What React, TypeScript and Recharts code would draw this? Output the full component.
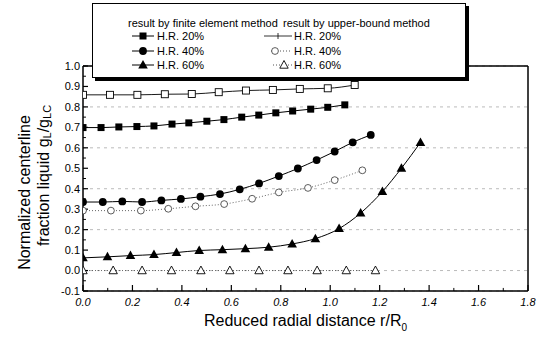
import { LineChart, Line, XAxis, YAxis, CartesianGrid, ReferenceLine, Legend } from 'recharts'

// finite element method (filled markers)
const femR20 = [0, 0.073, 0.145, 0.218, 0.287, 0.36, 0.428, 0.501, 0.57, 0.642, 0.711, 0.78, 0.848, 0.921, 0.99, 1.059]
const femG20 = [0.699, 0.699, 0.702, 0.704, 0.707, 0.716, 0.722, 0.73, 0.738, 0.75, 0.76, 0.771, 0.78, 0.789, 0.798, 0.81]
const femR40 = [0, 0.08, 0.159, 0.239, 0.317, 0.396, 0.475, 0.554, 0.634, 0.712, 0.792, 0.869, 0.945, 1.018, 1.091, 1.164]
const femG40 = [0.335, 0.335, 0.338, 0.335, 0.343, 0.35, 0.361, 0.374, 0.397, 0.426, 0.462, 0.499, 0.54, 0.582, 0.627, 0.663]
const femR60 = [0, 0.099, 0.192, 0.287, 0.378, 0.47, 0.564, 0.657, 0.751, 0.846, 0.94, 1.036, 1.123, 1.211, 1.288, 1.365]
const femG60 = [0.062, 0.067, 0.073, 0.078, 0.088, 0.098, 0.102, 0.107, 0.114, 0.13, 0.156, 0.205, 0.281, 0.386, 0.5, 0.626]

// upper-bound method (open markers)
const ubR20 = [0, 0.109, 0.22, 0.331, 0.44, 0.549, 0.659, 0.768, 0.877, 0.99, 1.099]
const ubG20 = [0.859, 0.859, 0.859, 0.862, 0.863, 0.872, 0.88, 0.883, 0.888, 0.891, 0.907]
const ubR40 = [0, 0.113, 0.234, 0.345, 0.455, 0.571, 0.684, 0.792, 0.91, 1.018, 1.13]
const ubG40 = [0.293, 0.293, 0.293, 0.302, 0.314, 0.325, 0.351, 0.382, 0.404, 0.442, 0.49]
const ubR60 = [0, 0.122, 0.239, 0.358, 0.477, 0.594, 0.712, 0.829, 0.947, 1.065, 1.183]
const ubG60 = [0, 0, 0, 0, 0, 0, 0, 0, 0, 0, 0]

const xTicks = [0, 0.2, 0.4, 0.6, 0.8, 1.0, 1.2, 1.4, 1.6, 1.8]
const xMinor = [0.1, 0.3, 0.5, 0.7, 0.9, 1.1, 1.3, 1.5, 1.7]
const yTicks = [-0.1, 0, 0.1, 0.2, 0.3, 0.4, 0.5, 0.6, 0.7, 0.8, 0.9, 1.0]
const yMinor = [-0.05, 0.05, 0.15, 0.25, 0.35, 0.45, 0.55, 0.65, 0.75, 0.85, 0.95]

const FONT = '"Liberation Sans", Arial, Helvetica, sans-serif'

const toPoints = (r: number[], g: number[]) => r.map((x, i) => ({ r: x, g: g[i] }))

const FilledSquare = ({ cx, cy }: any) => <rect x={cx - 3.5} y={cy - 3.5} width={7} height={7} fill="#000" />
const OpenSquare = ({ cx, cy }: any) => (
  <rect x={cx - 3.5} y={cy - 3.5} width={7} height={7} fill="#fff" stroke="#000" strokeWidth={0.9} />
)
const FilledCircle = ({ cx, cy }: any) => <circle cx={cx} cy={cy} r={3.9} fill="#000" />
const OpenCircle = ({ cx, cy }: any) => <circle cx={cx} cy={cy} r={3.4} fill="#fff" stroke="#333" strokeWidth={0.8} />
const FilledTriangle = ({ cx, cy }: any) => (
  <polygon points={`${cx},${cy - 5} ${cx - 4.8},${cy + 3.5} ${cx + 4.8},${cy + 3.5}`} fill="#000" />
)
const OpenTriangle = ({ cx, cy }: any) => (
  <polygon
    points={`${cx},${cy - 4.5} ${cx - 4.2},${cy + 3.2} ${cx + 4.2},${cy + 3.2}`}
    fill="#fff"
    stroke="#000"
    strokeWidth={0.9}
  />
)

const dotOf = (Shape: any) => (p: any) => <Shape key={p.index} cx={p.cx} cy={p.cy} />

const LegendBox = () => (
  <div
    style={{
      width: 372,
      height: 73,
      border: '1px solid #000',
      boxShadow: '3px 3px 0 #000',
      background: '#fff',
      fontFamily: FONT,
    }}
  >
    <svg width={372} height={73} style={{ display: 'block' }}>
      <g fontSize={11} fill="#000">
        <text x={35} y={23}>result by finite element method</text>
        <text x={190} y={23}>result by upper-bound method</text>
        <text x={64} y={36}>H.R. 20%</text>
        <text x={64} y={51}>H.R. 40%</text>
        <text x={64} y={65}>H.R. 60%</text>
        <text x={201} y={36}>H.R. 20%</text>
        <text x={201} y={51}>H.R. 40%</text>
        <text x={201} y={65}>H.R. 60%</text>
      </g>
      <line x1={39} x2={61} y1={32} y2={32} stroke="#000" />
      <FilledSquare cx={50} cy={32} />
      <line x1={39} x2={61} y1={47} y2={47} stroke="#000" />
      <FilledCircle cx={50} cy={47} />
      <line x1={39} x2={61} y1={61} y2={61} stroke="#000" />
      <FilledTriangle cx={50} cy={61} />
      <line x1={171} x2={199} y1={32} y2={32} stroke="#000" strokeWidth={0.8} />
      <line x1={185} x2={185} y1={29} y2={35} stroke="#000" strokeWidth={0.8} />
      <line x1={178} x2={198} y1={47} y2={47} stroke="#555" strokeDasharray="1 2" />
      <OpenCircle cx={182} cy={47} />
      <line x1={180} x2={199} y1={61} y2={61} stroke="#555" strokeDasharray="1 2" />
      <OpenTriangle cx={191} cy={61} />
    </svg>
  </div>
)

const YTitle = ({ viewBox }: any) => {
  const mid = viewBox.y + viewBox.height / 2
  const x1 = viewBox.x - 29
  const y1 = mid + 14
  const x2 = viewBox.x - 10
  const y2 = mid - 3
  return (
    <g fontFamily={FONT} fontSize={16} fill="#000">
      <text x={x1} y={y1} textAnchor="middle" dominantBaseline="central" transform={`rotate(-90 ${x1} ${y1})`}>
        Normalized centerline
      </text>
      <text x={x2} y={y2} textAnchor="middle" dominantBaseline="central" transform={`rotate(-90 ${x2} ${y2})`}>
        fraction liquid g<tspan dy={4} fontSize={11}>L</tspan>
        <tspan dy={-4}>/g</tspan>
        <tspan dy={4} fontSize={11}>LC</tspan>
      </text>
    </g>
  )
}

const XTitle = ({ viewBox }: any) => (
  <text
    x={viewBox.x + viewBox.width / 2}
    y={viewBox.y + 35}
    textAnchor="middle"
    fontFamily={FONT}
    fontSize={16}
    fill="#000"
  >
    Reduced radial distance r/R<tspan dy={5} fontSize={10}>0</tspan>
  </text>
)

export default function App() {
  return (
    <div style={{ position: 'absolute', left: 0, top: 0, width: 537, height: 342, background: '#fff' }}>
      <LineChart width={537} height={342} margin={{ top: 66, right: 9, bottom: 0, left: 53 }}>
        <CartesianGrid vertical={false} stroke="#aaa" strokeDasharray="3 4" strokeWidth={0.8} />
        <XAxis
          type="number"
          dataKey="r"
          domain={[0, 1.8]}
          ticks={xTicks}
          allowDataOverflow
          height={51}
          tickSize={-6}
          tickMargin={13}
          tickFormatter={(v: number) => v.toFixed(1)}
          tick={{ fontSize: 11, fontFamily: FONT, fontStyle: 'italic', fill: '#000' }}
          axisLine={{ stroke: '#000', strokeWidth: 1.5 }}
          tickLine={{ stroke: '#000', strokeWidth: 1.2 }}
          label={{ content: XTitle }}
        />
        <YAxis
          type="number"
          domain={[-0.1, 1.0]}
          ticks={yTicks}
          allowDataOverflow
          width={30}
          tickSize={-5}
          tickMargin={8}
          tickFormatter={(v: number) => v.toFixed(1)}
          tick={{ fontSize: 11, fontFamily: FONT, fill: '#000' }}
          axisLine={{ stroke: '#000', strokeWidth: 1.5 }}
          tickLine={{ stroke: '#000', strokeWidth: 1.2 }}
          label={{ content: YTitle }}
        />
        <ReferenceLine y={1.0} stroke="#000" strokeWidth={1.5} />
        <ReferenceLine x={1.8} stroke="#000" strokeWidth={1.5} />
        {xMinor.map((v) => (
          <ReferenceLine key={'xm' + v} segment={[{ x: v, y: -0.1 }, { x: v, y: -0.085 }]} stroke="#000" />
        ))}
        {yMinor.map((v) => (
          <ReferenceLine key={'ym' + v} segment={[{ x: 0, y: v }, { x: 0.012, y: v }]} stroke="#000" />
        ))}
        <Line
          data={toPoints(ubR20, ubG20)}
          dataKey="g"
          type="monotone"
          stroke="#000"
          strokeWidth={0.9}
          dot={dotOf(OpenSquare)}
          isAnimationActive={false}
        />
        <Line
          data={toPoints(ubR40, ubG40)}
          dataKey="g"
          type="monotone"
          stroke="#555"
          strokeWidth={0.9}
          strokeDasharray="1 2"
          dot={dotOf(OpenCircle)}
          isAnimationActive={false}
        />
        <Line
          data={toPoints(ubR60, ubG60)}
          dataKey="g"
          type="monotone"
          stroke="#555"
          strokeWidth={0.9}
          strokeDasharray="1 2"
          dot={dotOf(OpenTriangle)}
          isAnimationActive={false}
        />
        <Line
          data={toPoints(femR20, femG20)}
          dataKey="g"
          type="monotone"
          stroke="#000"
          strokeWidth={1}
          dot={dotOf(FilledSquare)}
          isAnimationActive={false}
        />
        <Line
          data={toPoints(femR40, femG40)}
          dataKey="g"
          type="monotone"
          stroke="#000"
          strokeWidth={1}
          dot={dotOf(FilledCircle)}
          isAnimationActive={false}
        />
        <Line
          data={toPoints(femR60, femG60)}
          dataKey="g"
          type="monotone"
          stroke="#000"
          strokeWidth={1}
          dot={dotOf(FilledTriangle)}
          isAnimationActive={false}
        />
        <Legend
          layout="vertical"
          align="center"
          verticalAlign="middle"
          content={<LegendBox />}
          wrapperStyle={{ left: 92, top: 3, width: 376, height: 77 }}
        />
      </LineChart>
    </div>
  )
}
